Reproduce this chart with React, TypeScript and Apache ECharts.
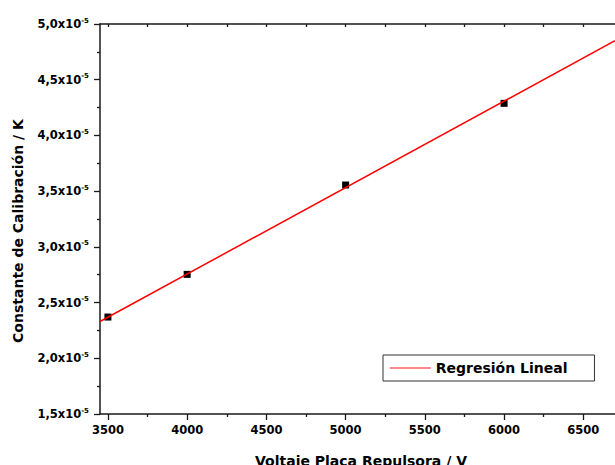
import React, { useEffect, useRef } from "react";
import * as echarts from "echarts";

// Voltage on the repeller plate (V)
const voltages = [3500, 4000, 5000, 6000];
// Calibration constant K, in units of 1e-5
const constants = [2.37, 2.753, 3.555, 4.288];
// Linear regression line endpoints (x in V, y in 1e-5 units)
const regressionX = [3450, 6700];
const regressionY = [2.33, 4.85];

const xMajorTicks = [3500, 4000, 4500, 5000, 5500, 6000, 6500];
const xMinorTicks = [3750, 4250, 4750, 5250, 5750, 6250];
const xAllTicks = [3500, 3750, 4000, 4250, 4500, 4750, 5000, 5250, 5500, 5750, 6000, 6250, 6500];

const xTitle = "Voltaje Placa Repulsora / V";
const yTitle = "Constante de Calibración / K";
const legendName = "Regresión Lineal";

const FONT = "DejaVu Sans";
const AXIS_COLOR = "#1a1a1a";

export default function App() {
  const ref = useRef<HTMLDivElement>(null);

  useEffect(() => {
    if (!ref.current) return;
    const chart = echarts.init(ref.current, null, { renderer: "svg" });
    const xMin = 3450;
    const xMax = 6700;
    const axisLine = { show: true, lineStyle: { color: AXIS_COLOR, width: 1.5 } };

    chart.setOption({
      animation: false,
      backgroundColor: "#ffffff",
      grid: { left: 100, top: 24, width: 516, height: 390, containLabel: false },
      legend: {
        show: true,
        data: [legendName],
        left: 383,
        top: 355,
        orient: "horizontal",
        padding: [6, 27, 6, 6],
        itemWidth: 41,
        itemHeight: 14,
        borderColor: "#333",
        borderWidth: 1,
        itemStyle: { opacity: 0 },
        lineStyle: { color: "#ff6060", width: 1.5 },
        textStyle: { fontFamily: FONT, fontWeight: "bold", fontSize: 14, color: "#000" },
      },
      xAxis: [
        {
          type: "value",
          position: "bottom",
          min: xMin,
          max: xMax,
          axisLine,
          splitLine: { show: false },
          axisTick: { show: true, inside: false, length: 6, customValues: xMajorTicks, lineStyle: { color: AXIS_COLOR, width: 1.3 } },
          axisLabel: {
            show: true,
            customValues: xMajorTicks,
            formatter: (v: number) => String(v),
            margin: 10,
            fontFamily: FONT,
            fontWeight: "bold",
            fontSize: 11.5,
            color: "#000",
          },
        },
        {
          type: "value",
          position: "bottom",
          min: xMin,
          max: xMax,
          axisLine: { show: false },
          splitLine: { show: false },
          axisTick: { show: true, inside: false, length: 3, customValues: xMinorTicks, lineStyle: { color: AXIS_COLOR, width: 1.3 } },
          axisLabel: { show: false },
        },
        {
          type: "value",
          position: "top",
          min: xMin,
          max: xMax,
          axisLine,
          splitLine: { show: false },
          axisTick: { show: true, inside: true, length: 3, customValues: xAllTicks, lineStyle: { color: AXIS_COLOR, width: 1.3 } },
          axisLabel: { show: false },
        },
      ],
      yAxis: [
        {
          type: "value",
          min: 1.5,
          max: 5.0,
          interval: 0.5,
          axisLine,
          splitLine: { show: false },
          axisTick: { show: true, inside: false, length: 6, lineStyle: { color: AXIS_COLOR, width: 1.3 } },
          minorTick: { show: true, splitNumber: 2, length: 3, lineStyle: { color: AXIS_COLOR, width: 1.3 } },
          minorSplitLine: { show: false },
          axisLabel: {
            show: true,
            margin: 11,
            formatter: (v: number) => `{m|${v.toFixed(1).replace(".", ",")}x10}{e|-5}`,
            rich: {
              m: { fontFamily: FONT, fontWeight: "bold", fontSize: 11.5, color: "#000", lineHeight: 14 },
              e: { fontFamily: FONT, fontWeight: "bold", fontSize: 7, color: "#000", verticalAlign: "top", lineHeight: 8 },
            },
          },
        },
      ],
      graphic: [
        {
          type: "text",
          x: 361,
          y: 461,
          style: {
            text: xTitle,
            fontFamily: FONT,
            fontWeight: "bold",
            fontSize: 14,
            fill: "#000",
            align: "center",
            verticalAlign: "middle",
          },
        },
        {
          type: "text",
          x: 18,
          y: 231,
          rotation: Math.PI / 2,
          style: {
            text: yTitle,
            fontFamily: FONT,
            fontWeight: "bold",
            fontSize: 14,
            fill: "#000",
            align: "center",
            verticalAlign: "middle",
          },
        },
      ],
      series: [
        {
          name: legendName,
          type: "line",
          xAxisIndex: 0,
          yAxisIndex: 0,
          data: regressionX.map((x, i) => [x, regressionY[i]]),
          symbol: "none",
          showSymbol: false,
          lineStyle: { color: "#ff0000", width: 1.5 },
          itemStyle: { color: "#ff0000" },
          z: 3,
        },
        {
          name: "Datos",
          type: "scatter",
          xAxisIndex: 0,
          yAxisIndex: 0,
          data: voltages.map((x, i) => [x, constants[i]]),
          symbol: "rect",
          symbolSize: 7,
          itemStyle: { color: "#000", opacity: 1 },
          z: 2,
        },
      ],
    });
    return () => chart.dispose();
  }, []);

  return (
    <div
      ref={ref}
      style={{ position: "absolute", left: 0, top: 0, width: 615, height: 465, background: "#fff" }}
    />
  );
}
